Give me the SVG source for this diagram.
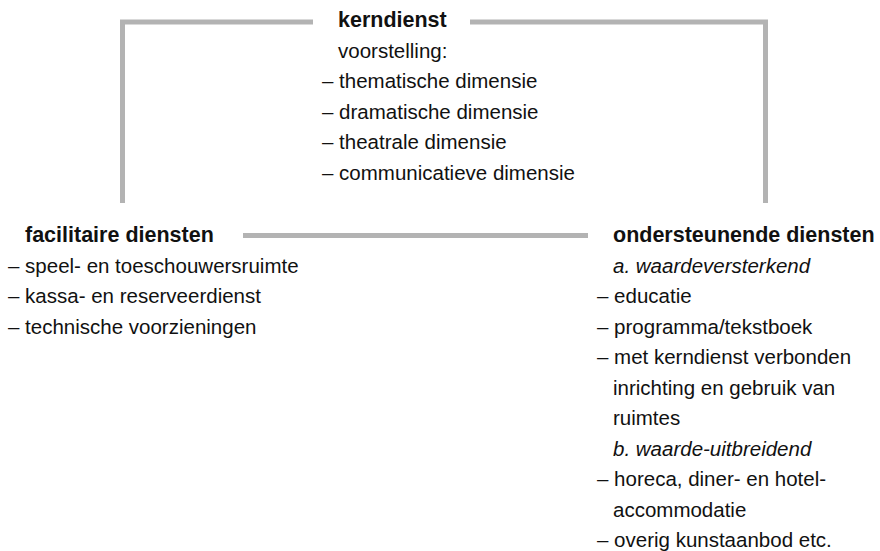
<svg xmlns="http://www.w3.org/2000/svg" width="880" height="551" viewBox="0 0 880 551">
<style>
text{font-family:"Liberation Sans",Arial,sans-serif;font-size:20.5px;fill:#111}
.h{font-weight:bold;font-size:21.5px}
.i{font-style:italic}
.c{fill:none;stroke:#b3b3b3;stroke-width:5}
</style>
<rect width="880" height="551" fill="#fff"/>
<g id="connectors">
<path class="c" d="M122.5,203 V22 H313"/>
<path class="c" d="M470,22 H765.5 V203"/>
<path class="c" d="M243,235.5 H588"/>
</g>
<g id="kerndienst">
<text class="h" x="338" y="27">kerndienst</text>
<text x="338" y="57.5">voorstelling:</text>
<text x="322" y="88">– thematische dimensie</text>
<text x="322" y="118.5">– dramatische dimensie</text>
<text x="322" y="149">– theatrale dimensie</text>
<text x="322" y="179.5">– communicatieve dimensie</text>
</g>
<g id="facilitaire">
<text class="h" x="25" y="242">facilitaire diensten</text>
<text x="8" y="272.5">– speel- en toeschouwersruimte</text>
<text x="8" y="303">– kassa- en reserveerdienst</text>
<text x="8" y="333.5">– technische voorzieningen</text>
</g>
<g id="ondersteunende">
<text class="h" x="613" y="242">ondersteunende diensten</text>
<text class="i" x="613" y="272.5">a. waardeversterkend</text>
<text x="597" y="303">– educatie</text>
<text x="597" y="333.5">– programma/tekstboek</text>
<text x="597" y="364">– met kerndienst verbonden</text>
<text x="613" y="394.5">inrichting en gebruik van</text>
<text x="613" y="425">ruimtes</text>
<text class="i" x="613" y="455.5">b. waarde-uitbreidend</text>
<text x="597" y="486">– horeca, diner- en hotel-</text>
<text x="613" y="516.5">accommodatie</text>
<text x="597" y="547">– overig kunstaanbod etc.</text>
</g>
</svg>
